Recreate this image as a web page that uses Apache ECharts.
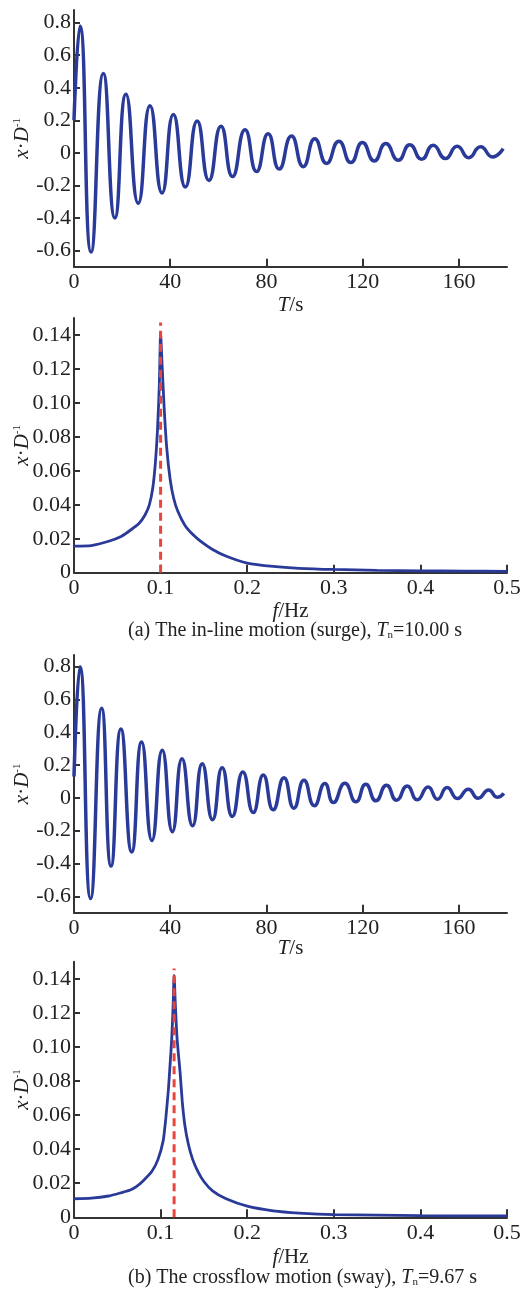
<!DOCTYPE html>
<html><head><meta charset="utf-8">
<script src="https://cdn.jsdelivr.net/npm/echarts@6/dist/echarts.min.js"></script>
<style>html,body{margin:0;padding:0;background:#fff}#c{width:521px;height:1293px}</style>
</head><body><div id="c"></div>
<script>
// ---- (a) in-line motion: time history (extrema)
const tA = [0, 2.5, 7.1, 12.2, 17.0, 21.6, 26.7, 31.6, 36.6, 41.3, 46.3, 51.2, 56.1, 61.1, 65.9, 71.1, 75.9, 80.7, 85.3, 90.4, 95.3, 100.1, 105.0, 110.1, 115.1, 119.9, 124.8, 129.6, 134.8, 139.6, 144.5, 149.3, 154.4, 159.3, 164.1, 169.0, 174.0, 178.4];
const xA = [0.2, 0.78, -0.61, 0.488, -0.40, 0.36, -0.31, 0.29, -0.247, 0.235, -0.21, 0.195, -0.17, 0.164, -0.146, 0.142, -0.115, 0.117, -0.10, 0.103, -0.085, 0.087, -0.065, 0.071, -0.06, 0.063, -0.05, 0.057, -0.045, 0.05, -0.04, 0.047, -0.035, 0.04, -0.03, 0.037, -0.025, 0.026];
// ---- (a) spectrum
const fA = [0, 0.02, 0.04, 0.055, 0.065, 0.075, 0.082, 0.087, 0.091, 0.094, 0.0965, 0.0985, 0.1, 0.1015, 0.104, 0.107, 0.111, 0.115, 0.12, 0.128, 0.137, 0.146, 0.16, 0.176, 0.2, 0.23, 0.26, 0.3, 0.35, 0.4, 0.45, 0.5];
const sA = [0.0157, 0.016, 0.0185, 0.0215, 0.025, 0.029, 0.034, 0.040, 0.050, 0.065, 0.085, 0.11, 0.141, 0.125, 0.098, 0.074, 0.055, 0.044, 0.036, 0.028, 0.0226, 0.0186, 0.0137, 0.0097, 0.0057, 0.0037, 0.0026, 0.0019, 0.0014, 0.0011, 0.0009, 0.0008];
const fnA = 0.1;
// ---- (b) crossflow motion: time history
const tB = [0, 2.5, 6.9, 11.5, 15.4, 19.5, 24.0, 28.1, 32.4, 36.7, 40.9, 44.9, 49.3, 53.3, 57.6, 61.6, 65.8, 70.2, 74.5, 78.7, 82.8, 87.3, 91.4, 95.6, 99.9, 104.3, 107.8, 112.6, 117.2, 121.3, 125.5, 129.9, 134.1, 138.5, 142.7, 147.2, 151.1, 155.1, 159.4, 163.9, 168.0, 172.4, 175.9, 178.7];
const xB = [0.13, 0.80, -0.614, 0.547, -0.416, 0.42, -0.33, 0.34, -0.26, 0.29, -0.206, 0.238, -0.17, 0.208, -0.133, 0.184, -0.113, 0.158, -0.089, 0.139, -0.073, 0.123, -0.063, 0.107, -0.048, 0.087, -0.028, 0.089, -0.024, 0.083, -0.018, 0.077, -0.014, 0.073, -0.012, 0.067, -0.008, 0.063, -0.004, 0.053, -0.002, 0.048, 0.004, 0.028];
// ---- (b) spectrum
const fB = [0, 0.02, 0.04, 0.055, 0.065, 0.072, 0.08, 0.09, 0.097, 0.103, 0.106, 0.109, 0.111, 0.1129, 0.1145, 0.1156, 0.117, 0.119, 0.1225, 0.125, 0.128, 0.132, 0.137, 0.143, 0.15, 0.16, 0.175, 0.2, 0.23, 0.26, 0.3, 0.4, 0.5];
const sB = [0.0109, 0.0112, 0.0125, 0.0145, 0.016, 0.018, 0.0215, 0.027, 0.034, 0.045, 0.058, 0.075, 0.09, 0.105, 0.125, 0.142, 0.125, 0.105, 0.085, 0.068, 0.054, 0.043, 0.034, 0.027, 0.021, 0.0155, 0.011, 0.0065, 0.0038, 0.0025, 0.0016, 0.001, 0.0008];
const fnB = 0.1156;
const redTop = [0.1473, 0.146];
// ---- tick labels
const timeTicks = [0, 40, 80, 120, 160];
const dispTicks = [-0.6, -0.4, -0.2, 0, 0.2, 0.4, 0.6, 0.8];
const freqTicks = [0, 0.1, 0.2, 0.3, 0.4, 0.5];
const specTicks = [0, 0.02, 0.04, 0.06, 0.08, 0.10, 0.12, 0.14];
const captionA = '(a) The in-line motion (surge), {i|T}{sub|n}=10.00 s';
const captionB = '(b) The crossflow motion (sway), {i|T}{sub|n}=9.67 s';

const FONT = '"Liberation Serif", "DejaVu Serif", serif';
const BLUE = '#2a3a98';
const RED = '#e8453c';
const AX = '#333';
const zip = (a, b) => a.map((v, i) => [v, b[i]]);

const gridBase = {left: 74, width: 433, outerBoundsMode: 'none', containLabel: false};
const grids = [
  Object.assign({top: 10, height: 256.7}, gridBase),
  Object.assign({top: 318, height: 254.7}, gridBase),
  Object.assign({top: 655, height: 257.7}, gridBase),
  Object.assign({top: 961.7, height: 255.6}, gridBase)
];
const richName = {
  i: {fontStyle: 'italic', fontFamily: FONT, fontSize: 21, color: '#222'},
  n: {fontFamily: FONT, fontSize: 21, color: '#222'},
  sup: {fontFamily: FONT, fontSize: 11, color: '#222', verticalAlign: 'top', padding: [0, 0, 9, 0]}
};
function xAx(idx, kind, gap) {
  const isT = kind === 't';
  const ticks = isT ? timeTicks : freqTicks;
  return {
    gridIndex: idx, type: 'value', min: 0, max: isT ? 180 : 0.5,
    name: isT ? '{i|T}{n|/s}' : '{i|f}{n|/Hz}', nameLocation: 'middle', nameGap: gap, nameMoveOverlap: false,
    nameTextStyle: {rich: richName},
    axisLine: {show: true, onZero: false, lineStyle: {color: AX, width: 2}},
    axisTick: {show: true, inside: true, length: 8, lineStyle: {color: AX, width: 2}, customValues: ticks},
    axisLabel: {fontFamily: FONT, fontSize: 22, color: '#222', margin: 5, customValues: ticks,
      formatter: v => isT ? String(v) : (v === 0 ? '0' : v.toFixed(1)), showMinLabel: true, showMaxLabel: true},
    splitLine: {show: false}
  };
}
function yAx(idx, kind, max) {
  const isD = kind === 'd';
  const ticks = isD ? dispTicks : specTicks;
  return {
    gridIndex: idx, type: 'value', min: isD ? -0.7 : 0, max: max,
    name: '{i|x}{n|·}{i|D}{sup|-1}', nameLocation: 'middle', nameGap: 41, nameMoveOverlap: false,
    nameTextStyle: {rich: richName},
    axisLine: {show: true, onZero: false, lineStyle: {color: AX, width: 2}},
    axisTick: {show: true, inside: true, length: 6, lineStyle: {color: AX, width: 2}, customValues: ticks},
    axisLabel: {fontFamily: FONT, fontSize: 22, color: '#222', margin: 3, customValues: ticks,
      formatter: v => v === 0 ? '0' : (isD ? v.toFixed(1) : v.toFixed(2))},
    splitLine: {show: false}
  };
}
const capRich = {
  i: {fontStyle: 'italic', fontFamily: FONT, fontSize: 20, fill: '#222'},
  sub: {fontFamily: FONT, fontSize: 11, fill: '#222', verticalAlign: 'bottom', padding: [9, 0, 0, 0]}
};
const option = {
  animation: false,
  backgroundColor: '#fff',
  grid: grids,
  xAxis: [xAx(0, 't', 28), xAx(1, 'f', 28), xAx(2, 't', 25), xAx(3, 'f', 30)],
  yAxis: [yAx(0, 'd', 0.878), yAx(1, 's', 0.15), yAx(2, 'd', 0.871), yAx(3, 's', 0.15)],
  series: [
    {type: 'line', xAxisIndex: 0, yAxisIndex: 0, data: zip(tA, xA), smooth: 0.55, showSymbol: false, lineStyle: {color: BLUE, width: 3.5}},
    {type: 'line', xAxisIndex: 1, yAxisIndex: 1, data: zip(fA, sA), smooth: 0.2, showSymbol: false, lineStyle: {color: BLUE, width: 2.8}},
    {type: 'line', xAxisIndex: 1, yAxisIndex: 1, data: [[fnA, 0], [fnA, redTop[0]]], showSymbol: false, lineStyle: {color: RED, width: 3, type: [8, 5]}},
    {type: 'line', xAxisIndex: 2, yAxisIndex: 2, data: zip(tB, xB), smooth: 0.55, showSymbol: false, lineStyle: {color: BLUE, width: 3.5}},
    {type: 'line', xAxisIndex: 3, yAxisIndex: 3, data: zip(fB, sB), smooth: 0.2, showSymbol: false, lineStyle: {color: BLUE, width: 2.8}},
    {type: 'line', xAxisIndex: 3, yAxisIndex: 3, data: [[fnB, 0], [fnB, redTop[1]]], showSymbol: false, lineStyle: {color: RED, width: 3, type: [8, 5]}}
  ],
  graphic: [
    {type: 'text', left: 128, top: 621, style: {text: captionA, fontFamily: FONT, fontSize: 20, fill: '#222', rich: capRich}},
    {type: 'text', left: 128, top: 1268, style: {text: captionB, fontFamily: FONT, fontSize: 20, fill: '#222', rich: capRich}}
  ]
};
const chart = echarts.init(document.getElementById('c'), null, {renderer: 'canvas'});
chart.setOption(option);
</script></body></html>
